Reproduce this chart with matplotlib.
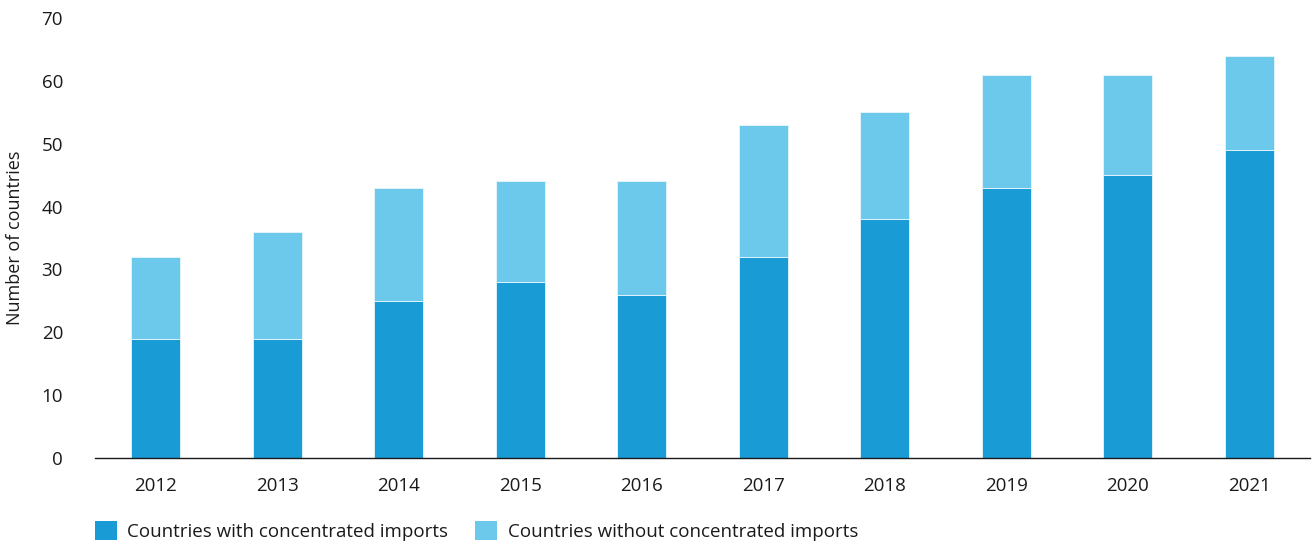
import matplotlib
matplotlib.use("Agg")
import matplotlib.pyplot as plt
from matplotlib.patches import Patch
import numpy as np

years = ["2012", "2013", "2014", "2015", "2016", "2017", "2018", "2019", "2020", "2021"]
with_conc = [19, 19, 25, 28, 26, 32, 38, 43, 45, 49]
without_conc = [13, 17, 18, 16, 18, 21, 17, 18, 16, 15]
y_ticks = [0, 10, 20, 30, 40, 50, 60, 70]
labels = ["Countries with concentrated imports", "Countries without concentrated imports"]

dark = "#199bd6"
light = "#6dc9eb"

plt.rcParams['font.family'] = ['Open Sans', 'DejaVu Sans']
fs = 13.5

fig = plt.figure(figsize=(13.12, 5.45), dpi=100)
ax = fig.add_axes([95/1312, 1 - 458/545, (1310 - 95)/1312, (458 - 18)/545])

x = np.arange(len(years))
w = 0.40
ax.bar(x, with_conc, width=w, color=dark, edgecolor="#e8f6fc", linewidth=0.6, zorder=2)
ax.bar(x, without_conc, width=w, bottom=with_conc, color=light, edgecolor="#e8f6fc", linewidth=0.6, zorder=2)

ax.set_xlim(-0.5, len(years) - 0.5)
ax.set_ylim(0, 70)
ax.set_yticks(y_ticks)
ax.set_yticklabels([str(t) for t in y_ticks], fontsize=fs, color="#1a1a1a")
ax.set_xticks(x)
ax.set_xticklabels(years, fontsize=fs, color="#1a1a1a")
ax.tick_params(axis='y', length=0, pad=23)
ax.tick_params(axis='x', length=0, pad=14)
for s in ["top", "right", "left"]:
    ax.spines[s].set_visible(False)
ax.spines["bottom"].set_color("#1a1a1a")
ax.spines["bottom"].set_linewidth(1.0)
ax.spines["bottom"].set_zorder(3)

fig.text(15/1312, 1 - 238/545, "Number of countries", rotation=90, ha="center", va="center",
         fontsize=fs - 0.5, color="#1a1a1a")

handles = [Patch(facecolor=dark, edgecolor="none"), Patch(facecolor=light, edgecolor="none")]
fig.legend(handles, labels, loc="lower left", bbox_to_anchor=(95/1312, 4/545), ncol=2,
           frameon=False, fontsize=fs, handlelength=1.17, handleheight=1.17,
           handletextpad=0.55, columnspacing=1.45, borderpad=0, borderaxespad=0,
           labelcolor="#1a1a1a")

fig.savefig("out.png", dpi=100)
